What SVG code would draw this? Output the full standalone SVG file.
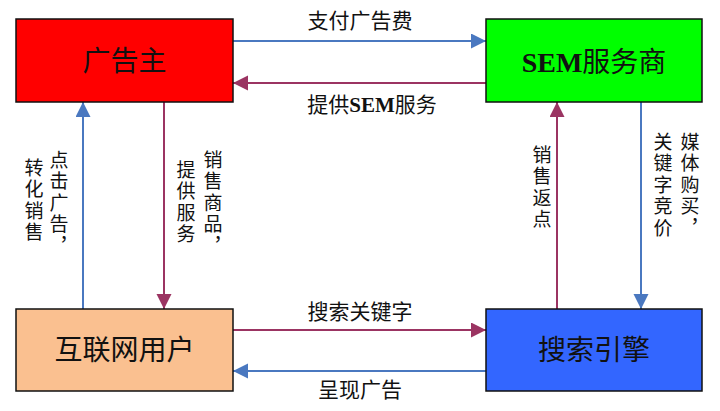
<svg xmlns="http://www.w3.org/2000/svg" width="720" height="411" viewBox="0 0 720 411">
<style>
.box{stroke:#111;stroke-width:1.5}
.lbl{font-family:"Noto Sans CJK SC","Liberation Sans",sans-serif;font-size:28px;fill:#111;text-anchor:middle}
.el{font-family:"Noto Sans CJK SC","Liberation Sans",sans-serif;font-size:21px;fill:#111;text-anchor:middle}
.vl{font-family:"Noto Sans CJK SC","Liberation Sans",sans-serif;font-size:19px;fill:#111;writing-mode:vertical-rl;text-orientation:upright;letter-spacing:2.5px}
.ser{font-family:"Liberation Serif",serif;font-weight:bold}
.b{stroke:#4a78c0;stroke-width:2;fill:none;marker-end:url(#ab)}
.m{stroke:#9b3462;stroke-width:2;fill:none;marker-end:url(#am)}
</style>
<defs>
<marker id="ab" markerUnits="userSpaceOnUse" markerWidth="16" markerHeight="16" refX="15" refY="7.5" orient="auto"><path d="M0,0 L15,7.5 L0,15 z" fill="#4a78c0"/></marker>
<marker id="am" markerUnits="userSpaceOnUse" markerWidth="16" markerHeight="16" refX="15" refY="7.5" orient="auto"><path d="M0,0 L15,7.5 L0,15 z" fill="#9b3462"/></marker>
</defs>
<rect width="720" height="411" fill="#fff"/>
<g id="connectors">
<path class="b" d="M233,41 H486"/>
<path class="m" d="M486,83 H233"/>
<path class="m" d="M233,330 H486"/>
<path class="b" d="M486,371 H233"/>
<path class="b" d="M83,309 V102"/>
<path class="m" d="M164,102 V309"/>
<path class="m" d="M557,309 V102"/>
<path class="b" d="M641,102 V309"/>
<text class="el" x="360" y="28">支付广告费</text>
<text class="el" x="372" y="112">提供<tspan class="ser">SEM</tspan>服务</text>
<text class="el" x="360" y="319">搜索关键字</text>
<text class="el" x="360" y="397">呈现广告</text>
<text class="vl" x="59" y="150">点击广告，</text>
<text class="vl" x="34" y="158">转化销售</text>
<text class="vl" x="213" y="150">销售商品，</text>
<text class="vl" x="186" y="160">提供服务</text>
<text class="vl" x="542" y="145">销售返点</text>
<text class="vl" x="690" y="132">媒体购买，</text>
<text class="vl" x="663" y="132">关键字竞价</text>
</g>
<g id="advertiser"><rect class="box" x="16" y="19" width="217" height="83" fill="#ff0000"/><text class="lbl" x="124.5" y="71">广告主</text></g>
<g id="sem"><rect class="box" x="486" y="19" width="216" height="83" fill="#00ff00"/><text class="lbl" x="594" y="72"><tspan class="ser">SEM</tspan>服务商</text></g>
<g id="users"><rect class="box" x="16" y="309" width="217" height="82" fill="#fac090"/><text class="lbl" x="124.5" y="360">互联网用户</text></g>
<g id="engine"><rect class="box" x="486" y="309" width="216" height="82" fill="#3366ff"/><text class="lbl" x="594" y="360">搜索引擎</text></g>
</svg>
